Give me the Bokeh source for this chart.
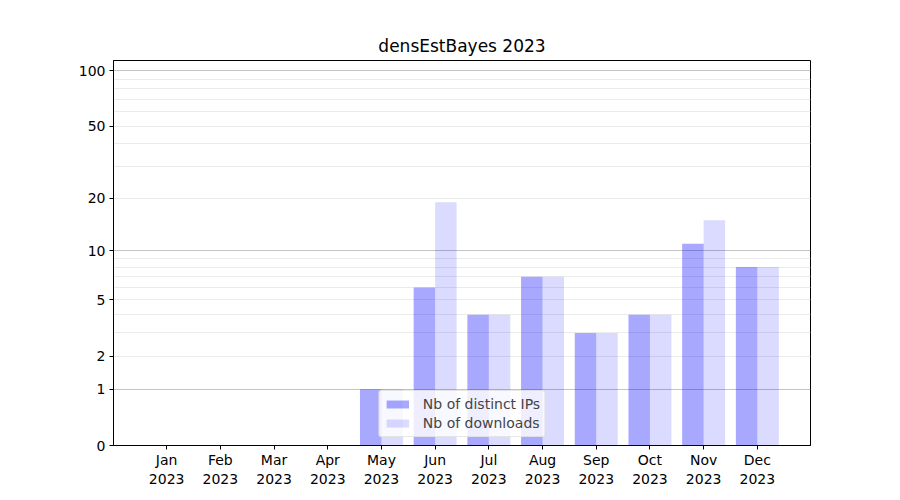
import numpy as np
from bokeh.plotting import figure
from bokeh.models import FixedTicker, Grid, ColumnDataSource, Legend, LegendItem
from bokeh.embed import file_html
from bokeh.resources import INLINE

months = ["Jan", "Feb", "Mar", "Apr", "May", "Jun", "Jul", "Aug", "Sep", "Oct", "Nov", "Dec"]
year = "2023"
distinct_ips = [0, 0, 0, 0, 1, 6, 4, 7, 3, 4, 11, 8]
downloads = [0, 0, 0, 0, 1, 19, 4, 7, 3, 4, 15, 8]
y_tick_values = [0, 1, 2, 5, 10, 20, 50, 100]
major_grid_values = [1, 10, 100]
minor_grid_values = [2, 3, 4, 5, 6, 7, 8, 9, 20, 30, 40, 50, 60, 70, 80, 90]

def tr(v):
    return np.log10(np.asarray(v, dtype=float) + 1)

x = np.arange(1, 13)
src = ColumnDataSource(dict(
    x1=x - 0.2, x2=x + 0.2,
    ip=tr(distinct_ips), dl=tr(downloads),
))

p = figure(width=900, height=500, output_backend="svg", toolbar_location=None,
           x_range=(0.01, 12.99), y_range=(0, 2.059),
           title="densEstBayes 2023", min_border_left=113, min_border_right=90,
           min_border_top=60, min_border_bottom=55)
p.background_fill_color = "white"
p.border_fill_color = "white"
p.outline_line_color = "black"
p.outline_line_width = 1
p.title.align = "center"
p.title.text_font = "DejaVu Sans"
p.title.text_font_size = "17px"
p.title.text_font_style = "normal"
p.title.text_color = "black"

r1 = p.vbar(x="x1", top="ip", width=0.4, source=src, fill_color="blue", fill_alpha=0.34, line_color=None)
r2 = p.vbar(x="x2", top="dl", width=0.4, source=src, fill_color="blue", fill_alpha=0.14, line_color=None)

p.xgrid.visible = False
p.ygrid.ticker = FixedTicker(ticks=list(tr(major_grid_values)))
p.ygrid.grid_line_color = "#c4c4c4"
p.ygrid.grid_line_width = 1
minor = Grid(dimension=1, ticker=FixedTicker(ticks=list(tr(minor_grid_values))),
             grid_line_color="#ebebeb", grid_line_width=1)
p.add_layout(minor)

p.xaxis.ticker = FixedTicker(ticks=list(x))
p.xaxis.major_label_overrides = {int(i): f"{m}\n{year}" for i, m in zip(x, months)}
p.yaxis.ticker = FixedTicker(ticks=list(tr(y_tick_values)))
p.yaxis.major_label_overrides = {float(t): str(v) for t, v in zip(tr(y_tick_values), y_tick_values)}
for ax in (p.xaxis, p.yaxis):
    ax.axis_line_color = "black"
    ax.major_tick_line_color = "black"
    ax.major_tick_out = 4
    ax.major_tick_in = 0
    ax.minor_tick_line_color = None
    ax.major_label_text_font = "DejaVu Sans"
    ax.major_label_text_font_size = "14px"
    ax.major_label_text_color = "black"
    ax.major_label_standoff = 4
p.xaxis.major_label_standoff = 2

legend = Legend(items=[LegendItem(label="Nb of distinct IPs", renderers=[r1]),
                       LegendItem(label="Nb of downloads", renderers=[r2])],
                location="bottom_center", margin=8, padding=4, spacing=1,
                label_text_font="DejaVu Sans", label_text_font_size="14px",
                label_standoff=12,
                glyph_width=28, glyph_height=10, label_height=18,
                border_line_color="#d0d0d0", background_fill_alpha=0.8,
                border_radius=3)
p.add_layout(legend)

open("out.html", "w").write(file_html(p, INLINE))
